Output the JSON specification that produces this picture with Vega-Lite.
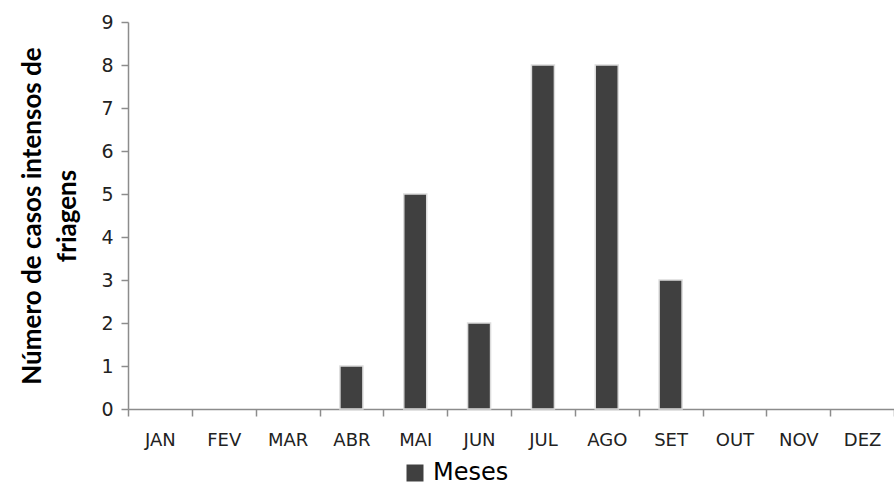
{
  "$schema": "https://vega.github.io/schema/vega-lite/v6.json",
  "autosize": "none",
  "width": 766,
  "height": 387,
  "padding": {"left": 128, "top": 22, "right": 0, "bottom": 78},
  "background": "white",
  "config": {"view": {"stroke": null}, "font": "DejaVu Sans"},
  "data": {"values": [
    {"mes": "JAN", "casos": 0, "serie": "Meses"},
    {"mes": "FEV", "casos": 0, "serie": "Meses"},
    {"mes": "MAR", "casos": 0, "serie": "Meses"},
    {"mes": "ABR", "casos": 1, "serie": "Meses"},
    {"mes": "MAI", "casos": 5, "serie": "Meses"},
    {"mes": "JUN", "casos": 2, "serie": "Meses"},
    {"mes": "JUL", "casos": 8, "serie": "Meses"},
    {"mes": "AGO", "casos": 8, "serie": "Meses"},
    {"mes": "SET", "casos": 3, "serie": "Meses"},
    {"mes": "OUT", "casos": 0, "serie": "Meses"},
    {"mes": "NOV", "casos": 0, "serie": "Meses"},
    {"mes": "DEZ", "casos": 0, "serie": "Meses"}
  ]},
  "mark": {"type": "bar", "width": {"band": 0.36}, "stroke": "#dcdcdc", "strokeWidth": 1.5},
  "encoding": {
    "x": {
      "field": "mes", "type": "nominal", "sort": null,
      "scale": {"paddingInner": 0, "paddingOuter": 0},
      "axis": {
        "title": null, "labelAngle": 0, "labelFontSize": 18, "labelColor": "#222",
        "tickBand": "extent", "tickSize": 7, "labelPadding": 15,
        "domainColor": "#8c8c8c", "tickColor": "#8c8c8c", "domainWidth": 1.5, "tickWidth": 1.5
      }
    },
    "y": {
      "field": "casos", "type": "quantitative",
      "scale": {"domain": [0, 9]},
      "axis": {
        "title": ["Número de casos intensos de", "friagens"],
        "titleFont": "Lato",
        "titleFontSize": 26, "titleFontWeight": "bold", "titleColor": "#000",
        "titlePadding": 20, "titleLineHeight": 35,
        "values": [0,1,2,3,4,5,6,7,8,9], "labelOverlap": false,
        "grid": false, "labelFontSize": 19, "labelColor": "#222", "labelPadding": 8,
        "tickSize": 7, "domainColor": "#8c8c8c", "tickColor": "#8c8c8c", "domainWidth": 1.5, "tickWidth": 1.5
      }
    },
    "strokeOpacity": {
      "condition": {"test": "datum.casos == 0", "value": 0},
      "value": 1
    },
    "color": {
      "field": "serie", "type": "nominal",
      "scale": {"range": ["#404040"]},
      "legend": {
        "title": null, "orient": "none", "legendX": 275, "legendY": 439,
        "symbolType": "square", "symbolSize": 289, "labelFontSize": 24, "labelColor": "#000",
        "symbolStrokeWidth": 0, "labelOffset": 6
      }
    }
  }
}
